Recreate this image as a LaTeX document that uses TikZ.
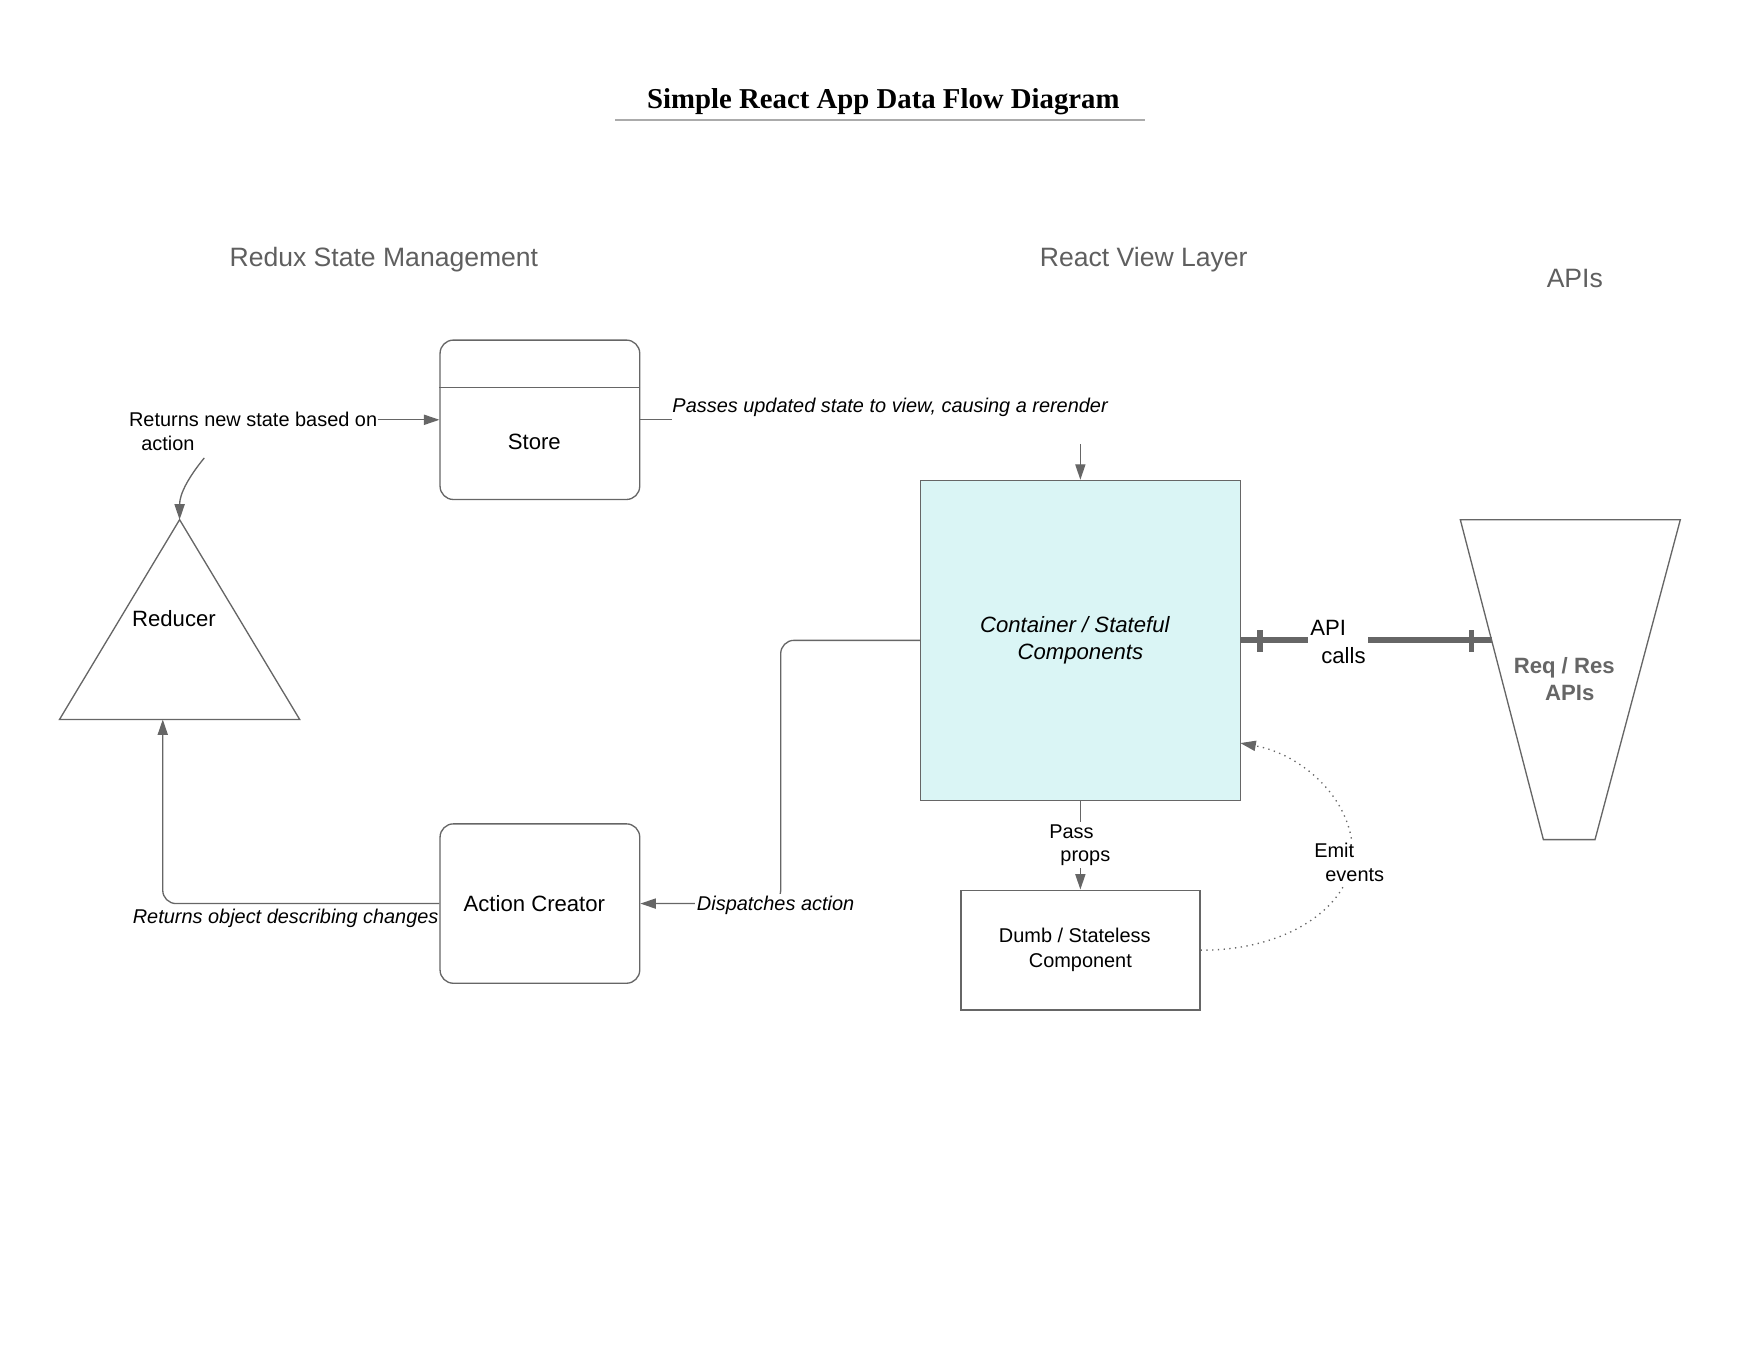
\documentclass[tikz,border=0pt]{standalone}
\usepackage{fontspec}
\setmainfont{Liberation Sans}
\newfontfamily\titlefont{Liberation Serif}
\usetikzlibrary{arrows.meta,calc}
\definecolor{linegray}{HTML}{666666}
\definecolor{headgray}{HTML}{5F5F5F}
\definecolor{cyanfill}{HTML}{DAF5F5}
\definecolor{rulegray}{HTML}{ABABAB}

\begin{document}
\begin{tikzpicture}[x=0.017819cm, y=-0.017819cm,
    every node/.style={inner sep=1pt},
    box/.style={draw=linegray, line width=0.6pt, minimum width=90.2pt, minimum height=72pt, font=\fontsize{10}{12.3}\selectfont},
    roundbox/.style={box, rounded corners=6pt},
    conn/.style={draw=linegray, line width=0.6pt},
    arr/.style={conn, -{Triangle[length=7pt,width=4.6pt]}},
    lbl/.style={font=\fontsize{9}{10.8}\selectfont, align=left},
    ilbl/.style={lbl, font=\fontsize{9}{10.8}\selectfont\itshape},
    heading/.style={text=headgray, font=\fontsize{12}{14}\selectfont},
    apiline/.style={draw=linegray, line width=2.6pt}]
  \useasboundingbox (0,0) rectangle (1568,1212);

  \node (title) [font=\titlefont\bfseries\fontsize{13}{15}\selectfont] at (787,91) {Simple React App Data Flow Diagram};
  \draw[rulegray, line width=0.9pt] (548,107) -- (1020,107);

  \node (redux) [heading] at (342,231) {Redux State Management};
  \node (view) [heading] at (1019,231) {React View Layer};
  \node (apis) [heading] at (1403,248) {APIs};

  \node (store) [roundbox] at (481,374) {};
  \draw[conn] ($(store.north west)+(0,43)$) -- ($(store.north east)+(0,43)$);
  \node (storetxt) [font=\fontsize{10}{12}\selectfont] at (476,394) {Store};

  \node (creator) [roundbox] at (481,805) {Action Creator\hspace*{5pt}};

  \node (cont) [box, fill=cyanfill, minimum width=144.5pt, minimum height=144.5pt,
    font=\fontsize{10}{12.3}\selectfont\itshape, align=center] at (962.5,570.5) {Container / Stateful\hspace*{5pt}\\Components};

  \node (dumb) [box, minimum width=108pt, minimum height=54.2pt,
    font=\fontsize{9}{11.3}\selectfont, align=center] at (962.5,846.5) {Dumb / Stateless\hspace*{5pt}\\Component};

  \coordinate (redtop) at (160,463);
  \coordinate (redleft) at (53,641);
  \coordinate (redright) at (267,641);
  \coordinate (redbase) at (145,641);
  \draw[conn] (redtop) -- (redright) -- (redleft) -- cycle;
  \node (reducer) [font=\fontsize{10}{12}\selectfont] at (155,551) {Reducer};

  \coordinate (reqtl) at (1301,463);
  \coordinate (reqtr) at (1497,463);
  \coordinate (reqbr) at (1421,748);
  \coordinate (reqbl) at (1375,748);
  \coordinate (apiin) at (1329,570.5);
  \draw[conn] (reqtl) -- (reqtr) -- (reqbr) -- (reqbl) -- cycle;
  \node (reqres) [text=linegray, font=\fontsize{10}{12.3}\selectfont\bfseries, align=center] at (1398.5,605) {Req / Res\hspace*{5pt}\\APIs};

  \node (newstate) [lbl, inner sep=0pt] at (225.5,384) {Returns new state based on\\\hspace*{5.5pt}action};
  \draw[arr] (newstate.east |- store.west) -- (store.west);
  \coordinate (newstatefoot) at (182,408);
  \draw[arr] (newstatefoot) .. controls (168,425) and (160,440) .. (redtop);

  \node (passes) [ilbl, inner sep=0pt] at (793,362.5) {Passes updated state to view, causing a rerender};
  \draw[conn] (store.east) -- (passes.west |- store.east);
  \coordinate (passesfoot) at (962.5,396);
  \draw[arr] (passesfoot) -- (cont.north);

  \draw[arr, rounded corners=6pt] (cont.west) -| ($(creator.east)+(125,0)$) -- (creator.east);
  \node (dispatch) [ilbl, fill=white] at (691,806.5) {Dispatches action};

  \draw[arr, rounded corners=6pt] (creator.west) -| (redbase);
  \node (retobj) [ilbl] at (254.5,818.5) {Returns object describing changes};

  \draw[arr] (cont.south) -- (dumb.north);
  \node (passprops) [lbl, fill=white] at (962,753) {Pass\\\hspace*{5pt}props};

  \coordinate (emitin) at (1105,662);
  \draw[arr, dotted] (dumb.east) .. controls (1150,847) and (1205,805) .. (1205,760)
    .. controls (1205,712) and (1160,672) .. (emitin);
  \node (emit) [lbl, fill=white] at (1202,768.5) {Emit\\\hspace*{5pt}events};

  \draw[apiline] (cont.east) -- (apiin);
  \draw[apiline] ($(cont.east)+(17,-9)$) -- ($(cont.east)+(17,10)$);
  \draw[apiline] ($(apiin)+(-18,-9)$) -- ($(apiin)+(-18,10)$);
  \node (apicalls) [font=\fontsize{10}{12.3}\selectfont, align=left, fill=white] at (1192,572) {API\\\hspace*{5pt}calls};
\end{tikzpicture}
\end{document}
